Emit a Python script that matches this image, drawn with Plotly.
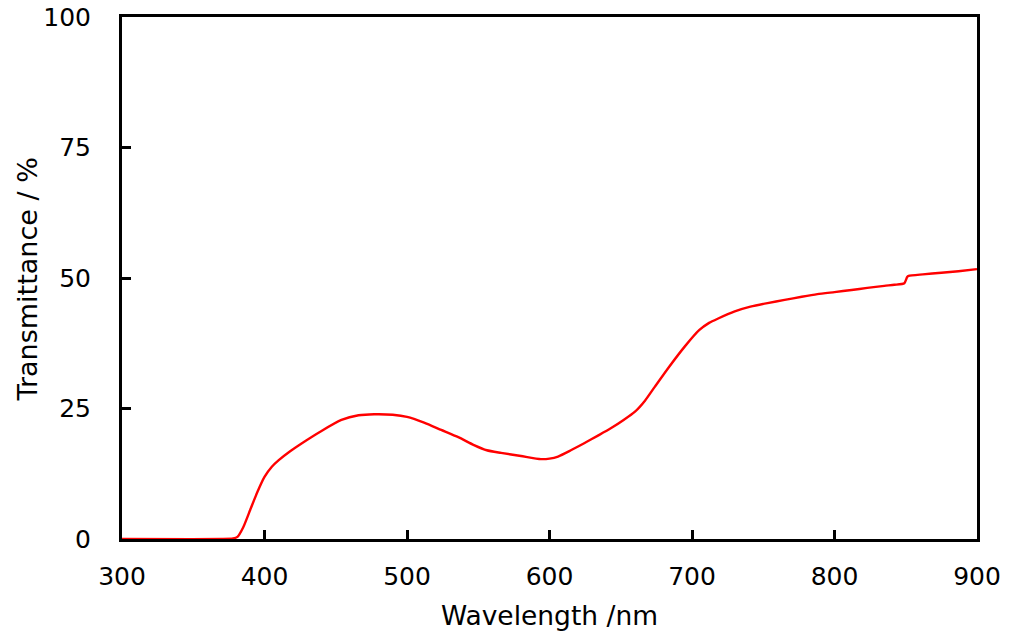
import plotly.graph_objects as go

wavelength = [300, 370, 378, 381, 385, 390, 395, 400, 405, 410, 418, 426, 440, 454, 466,
              477, 490, 500, 512, 524, 536, 547, 556, 566, 580, 594, 600, 606, 615, 624,
              634, 643, 652, 660, 667, 674, 684, 695, 705, 712, 718, 730, 741, 753, 765,
              777, 788, 800, 812, 823, 835, 842, 849, 851, 852, 862, 875, 887, 900]
transmittance = [0, 0, 0.1, 0.4, 2.2, 5.6, 9.0, 11.9, 13.8, 15.1, 16.8, 18.3, 20.7, 22.8, 23.7,
                 23.9, 23.8, 23.4, 22.3, 20.9, 19.5, 18.0, 17.0, 16.5, 15.9, 15.3, 15.4, 15.8, 17.0, 18.3,
                 19.8, 21.2, 22.8, 24.4, 26.5, 29.2, 33.0, 36.9, 40.0, 41.4, 42.2, 43.6, 44.5, 45.2, 45.8,
                 46.4, 46.9, 47.3, 47.7, 48.1, 48.5, 48.7, 49.0, 50.2, 50.4, 50.7, 51.0, 51.3, 51.7]

x_ticks = [300, 400, 500, 600, 700, 800, 900]
y_ticks = [0, 25, 50, 75, 100]

FONT = "DejaVu Sans"

fig = go.Figure()
fig.add_trace(go.Scatter(x=wavelength, y=transmittance, mode="lines",
                         line=dict(color="#ff0000", width=2.4, shape="spline", smoothing=0.6),
                         showlegend=False))

fig.update_layout(
    width=1024, height=640,
    margin=dict(l=122, r=47, t=17, b=101, autoexpand=False),
    paper_bgcolor="white", plot_bgcolor="white",
    font=dict(family=FONT, size=25, color="black"),
    xaxis=dict(range=[300, 900], tickvals=x_ticks, ticks="inside", ticklen=9, tickwidth=3,
               tickcolor="black", showline=True, linecolor="black", linewidth=3, mirror=True,
               showgrid=False, zeroline=False, ticklabelstandoff=13, automargin=False,
               ticklabeloverflow="allow",
               title=dict(text="Wavelength /nm", standoff=17, font=dict(size=26.5))),
    yaxis=dict(range=[0, 100], tickvals=y_ticks, ticks="inside", ticklen=9, tickwidth=3,
               tickcolor="black", showline=True, linecolor="black", linewidth=3, mirror=True,
               showgrid=False, zeroline=False, ticklabelstandoff=23, automargin=False,
               ticklabeloverflow="allow"),
    annotations=[dict(text="Transmittance / %", textangle=-90, xref="paper", yref="paper",
                      x=-94 / 855, y=0.497, xanchor="center", yanchor="middle",
                      showarrow=False, font=dict(size=27))],
)

fig.write_html("out.html", config={"displayModeBar": False},
               post_script="document.body.style.margin='0';document.body.style.overflow='hidden';")
